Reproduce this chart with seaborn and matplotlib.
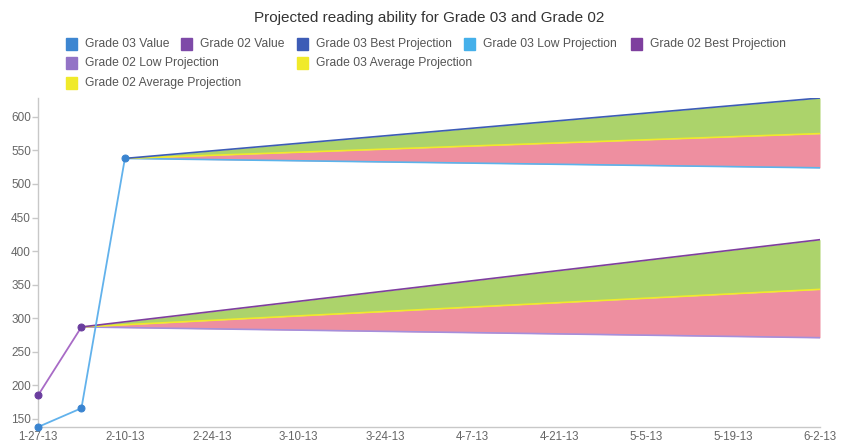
import pandas as pd
import matplotlib.pyplot as plt
import matplotlib.dates as mdates
from matplotlib.patches import Rectangle
import seaborn as sns

# ==============================================================================
# DADOS
# ==============================================================================
g03_datas = ["2013-01-27", "2013-02-03", "2013-02-10"]
g03_valores = [138, 166, 538]
g02_datas = ["2013-01-27", "2013-02-03"]
g02_valores = [185, 287]

g03_proj_datas = ["2013-02-10", "2013-06-02"]
g03_best = [538, 628]
g03_avg = [538, 575]
g03_low = [538, 524]

g02_proj_datas = ["2013-02-03", "2013-06-02"]
g02_best = [287, 417]
g02_avg = [287, 343]
g02_low = [287, 271]

tick_datas = pd.date_range("2013-01-27", "2013-06-02", freq="14D")
y_ticks = [150, 200, 250, 300, 350, 400, 450, 500, 550, 600]

legenda = [
    ("Grade 03 Value", "#3d86d1"), ("Grade 02 Value", "#7e4aa8"),
    ("Grade 03 Best Projection", "#3d5cb6"), ("Grade 03 Low Projection", "#45b0ea"),
    ("Grade 02 Best Projection", "#7e3f9e"), ("Grade 02 Low Projection", "#9373c6"),
    ("Grade 03 Average Projection", "#f0ea2a"), ("Grade 02 Average Projection", "#f0ea2a"),
]

# ==============================================================================
# CONFIGURAÇÕES
# ==============================================================================
sns.set_theme(style="white")
plt.rcParams['font.family'] = ['Liberation Sans', 'DejaVu Sans']

VERDE = "#acd36b"
ROSA = "#ee8fa0"

fig = plt.figure(figsize=(8.54, 4.45), dpi=100)
W, H = 854, 445
ax = fig.add_axes([38 / W, 1 - 427 / H, (820 - 38) / W, (427 - 98) / H])

def projecao(datas, best, avg, low, c_best, c_low):
    d = pd.to_datetime(datas)
    ax.fill_between(d, avg, best, color=VERDE, lw=0, zorder=1)
    ax.fill_between(d, low, avg, color=ROSA, lw=0, zorder=1)
    df = pd.DataFrame({"Data": d, "best": best, "avg": avg, "low": low})
    sns.lineplot(data=df, x="Data", y="low", color=c_low, lw=1.2, ax=ax, zorder=2)
    sns.lineplot(data=df, x="Data", y="avg", color="#f0ea2a", lw=1.2, ax=ax, zorder=2)
    sns.lineplot(data=df, x="Data", y="best", color=c_best, lw=1.2, ax=ax, zorder=2)

projecao(g03_proj_datas, g03_best, g03_avg, g03_low, "#3d5cb6", "#5ab4ec")
projecao(g02_proj_datas, g02_best, g02_avg, g02_low, "#7e3f9e", "#a58fdc")

df02 = pd.DataFrame({"Data": pd.to_datetime(g02_datas), "Valor": g02_valores})
df03 = pd.DataFrame({"Data": pd.to_datetime(g03_datas), "Valor": g03_valores})
sns.lineplot(data=df02, x="Data", y="Valor", color="#a86bc6", lw=1.3, marker="o",
             markersize=5, markerfacecolor="#6a3d9e", markeredgecolor="#6a3d9e",
             ax=ax, zorder=3, clip_on=False)
sns.lineplot(data=df03, x="Data", y="Valor", color="#62b2ec", lw=1.3, marker="o",
             markersize=5, markerfacecolor="#3a84d0", markeredgecolor="#3a84d0",
             ax=ax, zorder=3, clip_on=False)

# eixos
ax.set_xlim(pd.Timestamp("2013-01-27"), pd.Timestamp("2013-06-02"))
ax.set_ylim(138, 628)
ax.set_xticks(tick_datas)
ax.xaxis.set_major_formatter(mdates.DateFormatter("%-m-%-d-%y"))
ax.set_yticks(y_ticks)
ax.set_xlabel("")
ax.set_ylabel("")
for s in ["top", "right"]:
    ax.spines[s].set_visible(False)
for s in ["left", "bottom"]:
    ax.spines[s].set_color("#c8c8c8")
    ax.spines[s].set_linewidth(1)
ax.tick_params(axis="y", left=True, length=4, width=1, color="#c8c8c8",
               labelsize=8.5, labelcolor="#666666", pad=1)
ax.tick_params(axis="x", bottom=False, length=0, labelsize=8.3,
               labelcolor="#666666", pad=3)
ax.grid(False)

# título
fig.text(429 / W, 1 - 18 / H, "Projected reading ability for Grade 03 and Grade 02",
         ha="center", va="center", fontsize=11, color="#333333")

# legenda manual (posições tipo Highcharts)
posicoes = [(66, 44), (181, 44), (297, 44), (464, 44), (631, 44),
            (66, 63), (297, 63), (66, 83)]
for (nome, cor), (px, py) in zip(legenda, posicoes):
    fig.patches.append(Rectangle((px / W, 1 - (py + 5.5) / H), 11 / W, 11 / H,
                                 transform=fig.transFigure, color=cor, figure=fig))
    fig.text((px + 19) / W, 1 - py / H, nome, ha="left", va="center",
             fontsize=8.7, color="#555555")

fig.savefig("out.png", dpi=100)
